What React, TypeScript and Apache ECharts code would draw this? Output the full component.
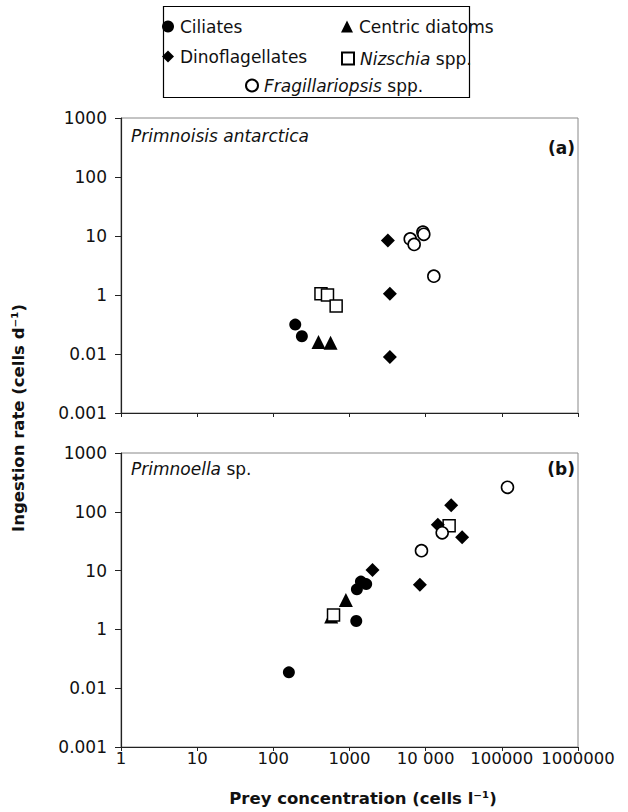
import React, { useEffect, useRef } from "react";
import * as echarts from "echarts";

// ---- data (x: prey concentration cells/l, y: ingestion rate in axis units) ----
const ciliatesA: [number, number][] = [[194, 0.315], [237, 0.2]];
const centricA: [number, number][] = [[392, 0.16], [564, 0.155]];
const dinoA: [number, number][] = [[3190, 8.4], [3390, 1.05], [3390, 0.089]];
const nizschiaA: [number, number][] = [[422, 1.05], [514, 1.0], [668, 0.65]];
const fragA: [number, number][] = [[6270, 8.9], [7060, 7.2], [9200, 11.6], [9450, 10.7], [12800, 2.08]];

const ciliatesB: [number, number][] = [[1413, 6.5], [1656, 5.9], [1250, 4.8], [1227, 1.39], [160, 0.186]];
const centricB: [number, number][] = [[897, 3.16], [575, 1.66]];
const dinoB: [number, number][] = [[21630, 129], [14450, 60], [30130, 37], [8400, 5.75], [2005, 10.2]];
const nizschiaB: [number, number][] = [[20320, 58], [617, 1.76]];
const fragB: [number, number][] = [[118600, 261], [16480, 44], [8810, 21.8]];

const xTickLabels: Record<number, string> = { 0: "1", 1: "10", 2: "100", 3: "1000", 4: "10 000", 5: "100000", 6: "1000000" };
const yTickLabels: Record<number, string> = { [-2]: "0.001", [-1]: "0.01", 0: "1", 1: "10", 2: "100", 3: "1000" };

const seriesNames = ["Ciliates", "Centric diatoms", "Dinoflagellates", "Nizschia spp.", "Fragillariopsis spp."];

const FONT = "DejaVu Sans";
const INK = "#000";

export default function App() {
  const ref = useRef<HTMLDivElement>(null);
  useEffect(() => {
    if (!ref.current) return;
    const chart = echarts.init(ref.current, undefined, { renderer: "svg" });

    const styles: Record<string, any> = {
      Ciliates: { symbol: "circle", symbolSize: 12, itemStyle: { color: INK, opacity: 1 }, z: 3 },
      "Centric diatoms": { symbol: "triangle", symbolSize: 14, itemStyle: { color: INK, opacity: 1 }, z: 1 },
      Dinoflagellates: { symbol: "diamond", symbolSize: 14, itemStyle: { color: INK, opacity: 1 }, z: 3 },
      "Nizschia spp.": { symbol: "rect", symbolSize: 12, itemStyle: { color: "#fff", borderColor: INK, borderWidth: 1.5, opacity: 1 }, z: 2 },
      "Fragillariopsis spp.": { symbol: "circle", symbolSize: 12, itemStyle: { color: "#fff", borderColor: INK, borderWidth: 1.6, opacity: 1 }, z: 4 },
    };

    const panelA = [ciliatesA, centricA, dinoA, nizschiaA, fragA];
    const panelB = [ciliatesB, centricB, dinoB, nizschiaB, fragB];

    const series: any[] = [];
    [panelA, panelB].forEach((panel, gi) => {
      panel.forEach((data, si) => {
        const name = seriesNames[si];
        series.push({
          type: "scatter",
          name,
          xAxisIndex: gi,
          yAxisIndex: gi,
          data,
          ...styles[name],
          emphasis: { disabled: true },
        });
      });
    });

    const xAxisBase = (showLabels: boolean, gi: number) => ({
      type: "log",
      gridIndex: gi,
      logBase: 10,
      min: 1,
      max: 1000000,
      splitNumber: 6,
      axisLine: { show: true, lineStyle: { color: "#222", width: 1.2 } },
      axisTick: { show: true, length: 4, inside: false, lineStyle: { color: "#222" } },
      splitLine: { show: false },
      axisLabel: {
        show: showLabels,
        margin: 3,
        fontFamily: FONT,
        fontSize: 16.5,
        color: "#111",
        formatter: (v: number) => xTickLabels[Math.round(Math.log10(v))] ?? "",
      },
    });
    const yAxisBase = (gi: number) => ({
      type: "log",
      gridIndex: gi,
      logBase: 10,
      min: 0.01,
      max: 1000,
      splitNumber: 5,
      axisLine: { show: true, lineStyle: { color: "#222", width: 1.2 } },
      axisTick: { show: true, length: 6, inside: false, lineStyle: { color: "#222" } },
      splitLine: { show: false },
      axisLabel: {
        margin: 14,
        fontFamily: FONT,
        fontSize: 17,
        color: "#111",
        formatter: (v: number) => yTickLabels[Math.round(Math.log10(v))] ?? "",
      },
    });

    const legendPos = [
      { name: "Ciliates", left: 162, top: 18 },
      { name: "Centric diatoms", left: 341, top: 18 },
      { name: "Dinoflagellates", left: 162, top: 48 },
      { name: "Nizschia spp.", left: 341, top: 50 },
      { name: "Fragillariopsis spp.", left: 245, top: 77 },
    ];
    const legends = legendPos.map((p) => ({
      data: [p.name],
      left: p.left,
      top: p.top,
      padding: 0,
      itemWidth: 12,
      itemHeight: 12,
      itemGap: 0,
      selectedMode: false,
      textStyle: {
        fontFamily: FONT,
        fontSize: 17,
        color: "#111",
        padding: [0, 0, 0, 1],
        rich: { i: { fontFamily: FONT, fontSize: 17, fontStyle: "italic", color: "#111" } },
      },
      formatter: (n: string) => {
        if (n === "Nizschia spp.") return "{i|Nizschia} spp.";
        if (n === "Fragillariopsis spp.") return "{i|Fragillariopsis} spp.";
        return n;
      },
    }));

    chart.setOption({
      animation: false,
      backgroundColor: "#fff",
      grid: [
        { left: 121, top: 118, width: 457, height: 295, show: true, borderColor: "#888", borderWidth: 1, backgroundColor: "transparent" },
        { left: 121, top: 453, width: 457, height: 294, show: true, borderColor: "#888", borderWidth: 1, backgroundColor: "transparent" },
      ],
      xAxis: [xAxisBase(false, 0), xAxisBase(true, 1)],
      yAxis: [yAxisBase(0), yAxisBase(1)],
      legend: legends,
      series,
      graphic: [
        { type: "rect", shape: { x: 163.5, y: 6.5, width: 306, height: 91 }, style: { fill: "none", stroke: "#000", lineWidth: 1.2 }, silent: true },
        {
          type: "text", x: 131, y: 136,
          style: { text: "Primnoisis antarctica", fontFamily: FONT, fontSize: 17, fontStyle: "italic", fill: "#111", textVerticalAlign: "middle" },
        },
        {
          type: "text", x: 131, y: 469,
          style: {
            text: "{i|Primnoella} sp.", fontFamily: FONT, fontSize: 17, fill: "#111", textVerticalAlign: "middle",
            rich: { i: { fontFamily: FONT, fontSize: 17, fontStyle: "italic", fill: "#111" } },
          },
        },
        {
          type: "text", x: 575, y: 148,
          style: { text: "(a)", fontFamily: FONT, fontSize: 17, fontWeight: "bold", fill: "#111", textAlign: "right", textVerticalAlign: "middle" },
        },
        {
          type: "text", x: 575, y: 469,
          style: { text: "(b)", fontFamily: FONT, fontSize: 17, fontWeight: "bold", fill: "#111", textAlign: "right", textVerticalAlign: "middle" },
        },
        {
          type: "text", x: 18, y: 418, rotation: Math.PI / 2,
          style: { text: "Ingestion rate (cells d⁻¹)", fontFamily: FONT, fontSize: 16.5, fontWeight: "bold", fill: "#111", textAlign: "center", textVerticalAlign: "middle" },
        },
        {
          type: "text", x: 363, y: 798,
          style: { text: "Prey concentration (cells l⁻¹)", fontFamily: FONT, fontSize: 16.5, fontWeight: "bold", fill: "#111", textAlign: "center", textVerticalAlign: "middle" },
        },
      ],
    });
    return () => chart.dispose();
  }, []);

  return <div ref={ref} style={{ position: "absolute", left: 0, top: 0, width: 628, height: 812 }} />;
}
